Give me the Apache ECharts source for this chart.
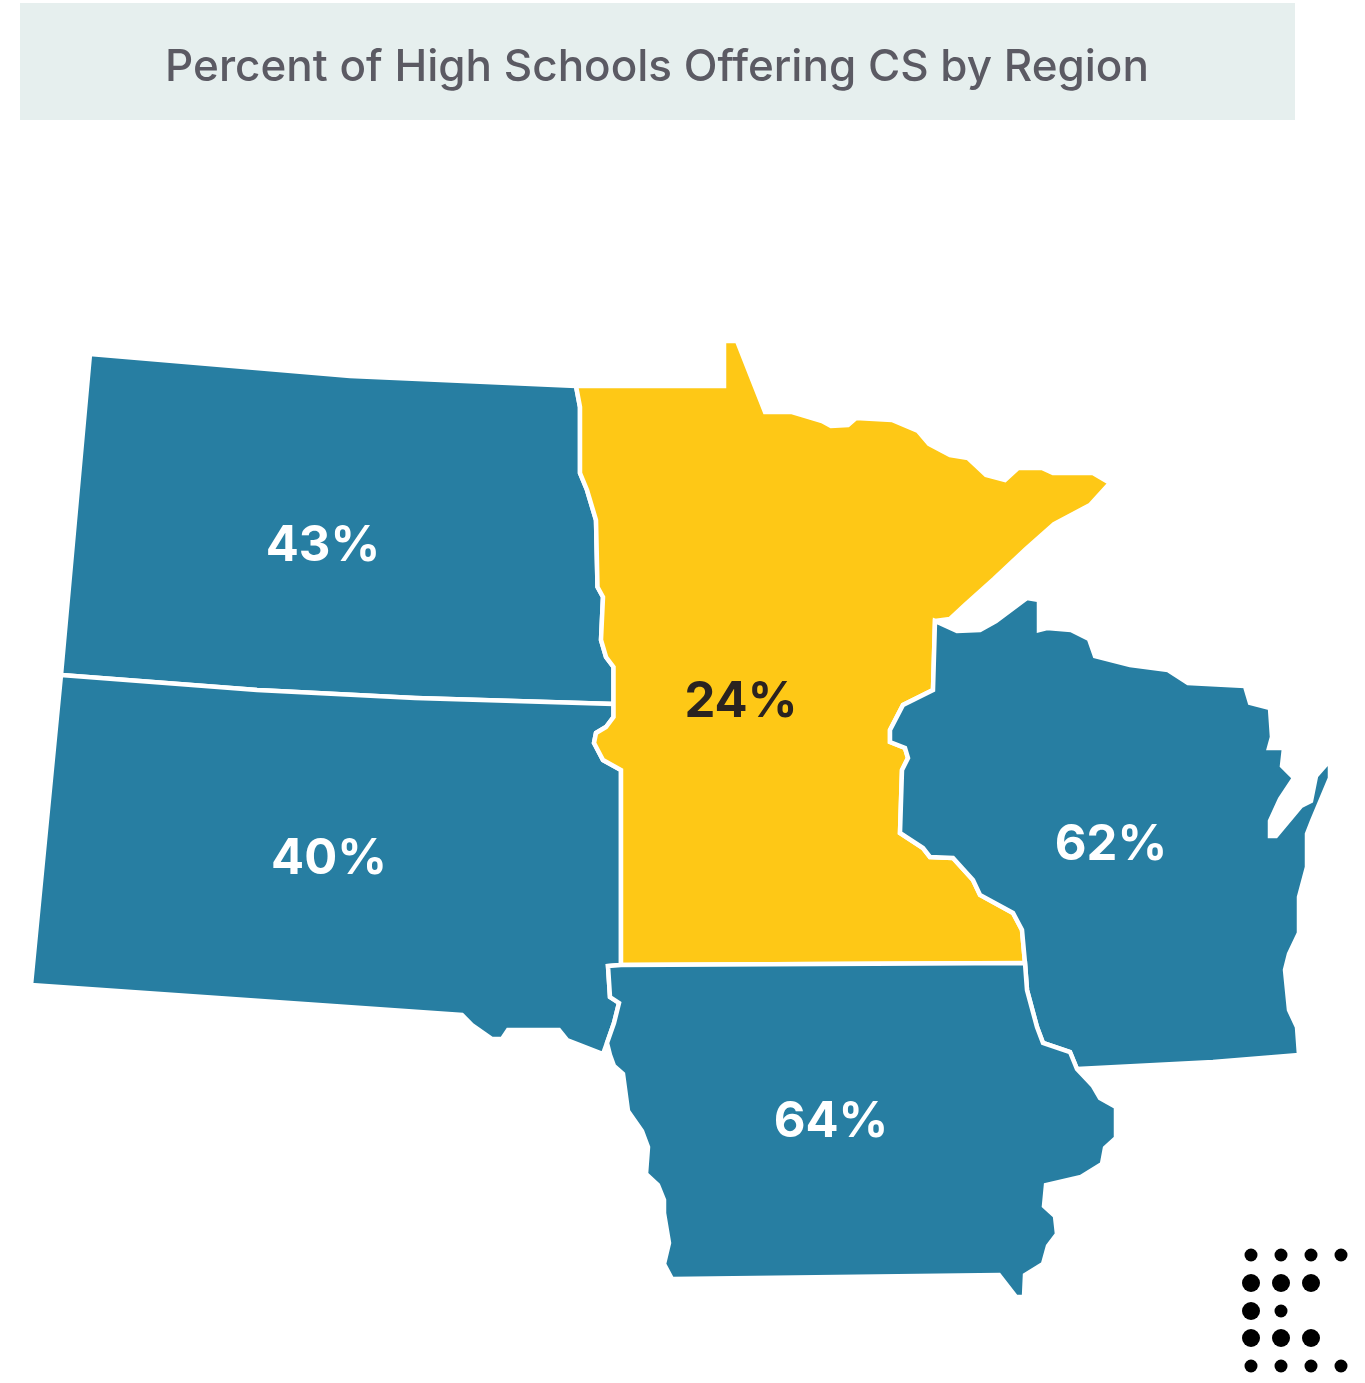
<!DOCTYPE html>
<html><head><meta charset="utf-8">
<style>html,body{margin:0;padding:0;background:#fff}#c{width:1365px;height:1383px}</style>
<script src="https://cdn.jsdelivr.net/npm/echarts@6/dist/echarts.min.js"></script>
</head><body><div id="c"></div>
<script>
const titleText = 'Percent of High Schools Offering CS by Region';
const regionNames = ['North Dakota', 'South Dakota', 'Minnesota', 'Wisconsin', 'Iowa'];
const regionValues = [43, 40, 24, 62, 64];
const highlightRegion = 'Minnesota';

// Boundary geometry (shared borders are reused by both neighbours).
const edgeNdMn = [[576,386],[580,407],[580,473],[587,490],[596,520],[597.5,587],[603,597],[601,640],[606,657],[613.5,667],[613.5,704]];
const edgeNdSd = [[613.5,704],[415,698],[257,690],[61,675]];
const edgeSdMn = [[613.5,704],[613.5,717],[606,727],[596,733],[594,743],[603,760],[621,770],[621,965]];
const edgeSdIa = [[621,965],[608,966],[610,997],[619,1003],[614,1023],[607,1043]];
const edgeMnIa = [[621,965],[1025,963]];
const edgeMnWi = [[935,621],[933,690],[903,705],[890,730],[890,742],[905,748],[908,758],[902,770],[900,833],[923,848],[930,857],[953,858],[973,880],[980,895],[1013,913],[1022,930],[1025,963]];
const edgeWiIa = [[1025,963],[1027,990],[1037,1027],[1043,1043],[1070,1052],[1077,1069]];
const outerNd = [[61,675],[90,354],[350,376],[576,386]];
const outerSd = [[607,1043],[603,1054],[567,1040],[559,1030],[508,1030],[502,1039],[492,1039],[472,1025],[462,1015],[31,985],[61,675]];
const outerMn = [[576,386],[724,386],[724,341],[737,341],[748,369],[765,412],[792,412],[822,421],[831,426],[848,425],[856,418],[892,420],[918,431],[929,444],[950,455],[968,458],[986,475],[1005,480],[1018,468],[1042,468],[1053,473],[1093,473],[1110,483],[1090,505],[1054,524],[1026,549],[994,579],[965,605],[950,619],[935,621]];
const outerWi = [[935,621],[957,631],[980,630],[996,621],[1027,598],[1039,600],[1039,630],[1047,628],[1071,630],[1089,639],[1095,656],[1130,665],[1168,670],[1188,683],[1245,686],[1250,703],[1270,708],[1272,737],[1269,748],[1284,748],[1282,766],[1294,778],[1280,799],[1270,821],[1270,836],[1276,836],[1301,806],[1311,801],[1316,776],[1330,760],[1330,778],[1312,821],[1307,834],[1307,867],[1299,897],[1299,933],[1289,954],[1285,970],[1289,1010],[1297,1027],[1299,1055],[1213,1062],[1077,1069]];
const outerIa = [[1077,1069],[1093,1086],[1100,1098],[1116,1107],[1116,1138],[1105,1148],[1102,1164],[1081,1177],[1046,1185],[1044,1206],[1055,1216],[1057,1234],[1048,1246],[1043,1264],[1025,1275],[1024,1297],[1016,1297],[999,1275],[672,1279],[664,1264],[669,1243],[664,1213],[664,1200],[658,1185],[646,1174],[648,1147],[642,1131],[628,1111],[623,1074],[614,1066],[610,1055],[607,1043]];

const rev = a => a.slice().reverse();
const join = (...parts) => { const o = []; parts.forEach(p => p.forEach(q => o.push(q))); o.push(o[0]); return o; };
const regionRings = {
  'North Dakota': join(outerNd, edgeNdMn, edgeNdSd),
  'South Dakota': join(rev(edgeNdSd), edgeSdMn, edgeSdIa, outerSd),
  'Minnesota': join(outerMn, edgeMnWi, rev(edgeMnIa), rev(edgeSdMn), rev(edgeNdMn)),
  'Wisconsin': join(outerWi, rev(edgeWiIa), rev(edgeMnWi)),
  'Iowa': join(edgeMnIa, edgeWiIa, outerIa, rev(edgeSdIa))
};
const labelAnchors = {
  'North Dakota': [323,546], 'South Dakota': [329,859], 'Minnesota': [741,702], 'Wisconsin': [1111,845], 'Iowa': [831,1122]
};
const geoJson = {
  type: 'FeatureCollection',
  features: regionNames.map(n => ({
    type: 'Feature',
    properties: { name: n, cp: labelAnchors[n] },
    geometry: { type: 'Polygon', coordinates: [regionRings[n]] }
  }))
};
echarts.registerMap('midwest', geoJson);

// Decorative dot block
const dotColumns = [1251, 1281, 1311, 1341];
const dotRows = [1255, 1283, 1311, 1338, 1366];
const dotPattern = [
  [1,1,1,1],
  [2,2,2,0],
  [2,1,0,0],
  [2,2,2,0],
  [1,1,1,1]
];
const dots = [];
dotPattern.forEach((row, r) => row.forEach((k, c) => { if (k) dots.push([dotColumns[c], dotRows[r], k]); }));

const chart = echarts.init(document.getElementById('c'), null, { renderer: 'canvas', width: 1365, height: 1383 });
chart.setOption({
  animation: false,
  backgroundColor: '#ffffff',
  title: {
    text: titleText, left: 652, top: 63, textAlign: 'center', textVerticalAlign: 'middle',
    textStyle: { fontFamily: 'Inter', fontWeight: 500, fontSize: 44, color: '#5b5a63' }
  },
  graphic: [{ type: 'rect', z: 0, silent: true, shape: { x: 20, y: 3, width: 1275, height: 117 }, style: { fill: '#e6efee' } }],
  grid: { left: 0, top: 0, width: 1365, height: 1383 },
  xAxis: { type: 'value', min: 0, max: 1365, show: false },
  yAxis: { type: 'value', min: 0, max: 1383, inverse: true, show: false },
  series: [
    {
      type: 'map', map: 'midwest', silent: true, selectedMode: false,
      projection: { project: p => p, unproject: p => p },
      boundingCoords: [[0, 0], [1365, 1383]],
      left: 0, top: 0, width: 1365, height: 1383, aspectScale: 1,
      itemStyle: { areaColor: '#277ea2', borderColor: '#ffffff', borderWidth: 4.5 },
      emphasis: { disabled: true },
      label: { show: true, fontFamily: 'Inter', fontWeight: 700, fontSize: 49, color: '#ffffff', formatter: p => p.value + '%' },
      data: regionNames.map((n, i) => n === highlightRegion
        ? { name: n, value: regionValues[i], itemStyle: { areaColor: '#fec816', color: '#fec816' }, label: { color: '#2a2320' } }
        : { name: n, value: regionValues[i], itemStyle: { areaColor: '#277ea2', color: '#277ea2' } })
    },
    {
      type: 'scatter', silent: true, z: 5,
      data: dots,
      symbolSize: d => d[2] === 2 ? 18 : 13,
      itemStyle: { color: '#000000', opacity: 1 }
    }
  ]
});
</script></body></html>
